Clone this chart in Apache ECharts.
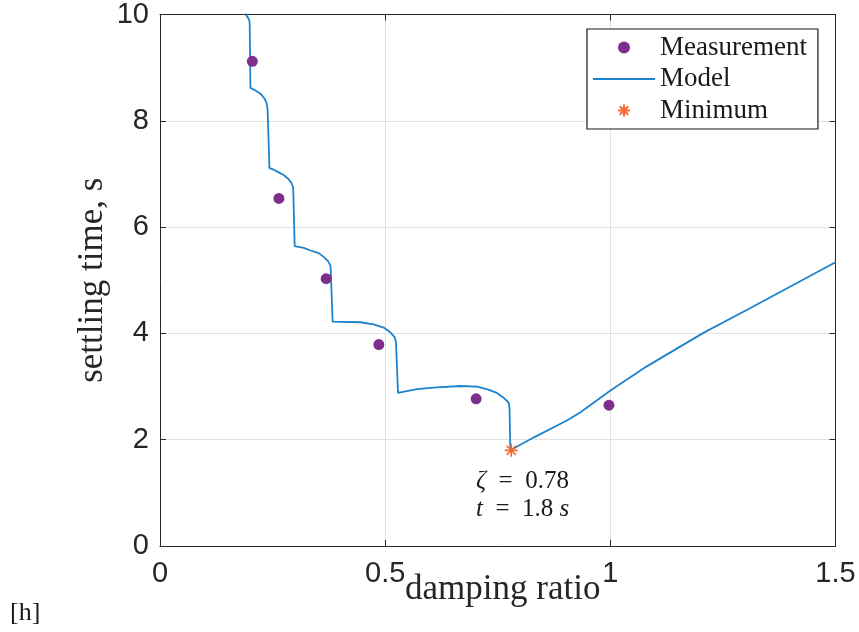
<!DOCTYPE html>
<html>
<head>
<meta charset="utf-8">
<script src="https://cdn.jsdelivr.net/npm/echarts@6/dist/echarts.min.js"></script>
<style>
html,body{margin:0;padding:0;background:#fff;}
#chart{width:859px;height:632px;}
</style>
</head>
<body>
<div id="chart"></div>
<script>
// Measurements (damping ratio, settling time)
const measZeta = [0.205, 0.264, 0.369, 0.486, 0.702, 0.997];
const measTime = [9.12, 6.54, 5.03, 3.79, 2.77, 2.65];

// Model curve
const modelZeta = [0.185, 0.1897, 0.1948, 0.1986, 0.1992,
  0.2008, 0.2119, 0.2230, 0.2319, 0.2363, 0.2385, 0.2392,
  0.2430, 0.2525, 0.2636, 0.2747, 0.2858, 0.2918, 0.2955, 0.2962,
  0.2991, 0.3191, 0.3339, 0.3524, 0.3634, 0.3731, 0.3783, 0.3790,
  0.3834, 0.4449, 0.4744, 0.4966, 0.5114, 0.5210, 0.5240,
  0.5285, 0.5707, 0.6075, 0.6667, 0.7038, 0.7260, 0.7482, 0.7628, 0.7739, 0.7761,
  0.7780, 0.8294, 0.9035, 0.9330, 1.0011, 1.0810, 1.2066, 1.3029, 1.5];
const modelTime = [10.6, 10.0, 9.95, 9.88, 9.83,
  8.62, 8.57, 8.51, 8.42, 8.34, 8.24, 8.15,
  7.11, 7.08, 7.03, 6.98, 6.90, 6.83, 6.75, 6.62,
  5.64, 5.61, 5.56, 5.51, 5.44, 5.36, 5.28, 5.22,
  4.22, 4.21, 4.17, 4.11, 4.02, 3.93, 3.84,
  2.88, 2.95, 2.98, 3.01, 3.00, 2.95, 2.88, 2.79, 2.70, 2.60,
  1.80, 2.04, 2.36, 2.51, 2.93, 3.38, 4.01, 4.44, 5.34];

// Minimum
const minZeta = 0.78;
const minTime = 1.8;

// Axis ticks
const xTicks = [0, 0.5, 1, 1.5];
const yTicks = [0, 2, 4, 6, 8, 10];

const seriesNames = ['Measurement', 'Model', 'Minimum'];

const serif = '"Liberation Serif", "Times New Roman", serif';
const sans = '"Liberation Sans", Arial, Helvetica, sans-serif';
const axisColor = '#262626';
const lineColor = '#1d83cc';
const starPath = 'path://M0,-10L0,10M-10,0L10,0M-7.07,-7.07L7.07,7.07M-7.07,7.07L7.07,-7.07';

const chart = echarts.init(document.getElementById('chart'), null, {renderer: 'canvas'});

const baseX = {
  type: 'value', min: xTicks[0], max: xTicks[xTicks.length - 1], interval: 0.5,
  axisLine: {show: true, onZero: false, lineStyle: {color: axisColor, width: 1}},
  axisTick: {show: true, inside: true, length: 6, lineStyle: {color: axisColor}},
  splitLine: {show: false}
};
const baseY = {
  type: 'value', min: yTicks[0], max: yTicks[yTicks.length - 1], interval: 2,
  axisLine: {show: true, onZero: false, lineStyle: {color: axisColor, width: 1}},
  axisTick: {show: true, inside: true, length: 6, lineStyle: {color: axisColor}},
  splitLine: {show: false}
};

const option = {
  backgroundColor: '#ffffff',
  animation: false,
  grid: {left: 160, right: 23.5, top: 11, bottom: 86, containLabel: false},
  xAxis: [
    Object.assign({}, baseX, {
      position: 'bottom',
      name: 'damping ratio', nameLocation: 'middle', nameGap: 26, nameMoveOverlap: false,
      nameTextStyle: {fontFamily: serif, fontSize: 35, color: '#262626', padding: [0, 0, 0, 10]},
      axisLabel: {show: true, margin: 13, fontFamily: sans, fontSize: 29, color: axisColor,
        formatter: v => String(v)},
      splitLine: {show: true, lineStyle: {color: '#e1e1e1', width: 1}}
    }),
    Object.assign({}, baseX, {position: 'top', axisLabel: {show: false}})
  ],
  yAxis: [
    Object.assign({}, baseY, {
      position: 'left',
      name: 'settling time, s', nameLocation: 'middle', nameGap: 50, nameMoveOverlap: false,
      nameTextStyle: {fontFamily: serif, fontSize: 35, color: '#262626'},
      axisLabel: {show: true, margin: 11, fontFamily: sans, fontSize: 29, color: axisColor},
      splitLine: {show: true, lineStyle: {color: '#e1e1e1', width: 1}}
    }),
    Object.assign({}, baseY, {position: 'right', axisLabel: {show: false}})
  ],
  legend: {
    data: [
      {name: seriesNames[0]},
      {name: seriesNames[1], itemStyle: {opacity: 0}},
      {name: seriesNames[2]}
    ],
    orient: 'vertical',
    left: 587, top: 29,
    padding: [5, 11, 5, 5],
    itemWidth: 62, itemHeight: 12, itemGap: 4.5,
    backgroundColor: '#ffffff',
    borderColor: '#1a1a1a', borderWidth: 1.2, borderRadius: 0,
    textStyle: {fontFamily: serif, fontSize: 27, color: '#1a1a1a', lineHeight: 27}
  },
  graphic: [{
    type: 'text', left: 10, top: 600,
    style: {text: '[h]', font: '26px ' + serif, fill: '#1a1a1a'}
  }],
  series: [
    {
      name: 'Measurement', type: 'scatter', xAxisIndex: 0, yAxisIndex: 0,
      symbol: 'circle', symbolSize: 11,
      itemStyle: {color: '#7E2F8E', opacity: 1},
      data: measZeta.map((z, i) => [z, measTime[i]]),
      z: 3
    },
    {
      name: 'Model', type: 'line', xAxisIndex: 0, yAxisIndex: 0,
      showSymbol: false, symbol: 'none', clip: true,
      lineStyle: {color: lineColor, width: 1.8},
      itemStyle: {color: lineColor},
      data: modelZeta.map((z, i) => [z, modelTime[i]]),
      z: 2
    },
    {
      name: 'Minimum', type: 'scatter', xAxisIndex: 0, yAxisIndex: 0,
      symbol: starPath, symbolSize: 13,
      itemStyle: {color: 'rgba(0,0,0,0)', borderColor: '#F5682F', borderWidth: 1.6, opacity: 1},
      label: {
        show: true, position: [-28, 24], align: 'left', verticalAlign: 'top',
        formatter: '{i|ζ}  =  ' + minZeta + '\n{i|t}  =  ' + minTime + ' {i|s}',
        fontFamily: serif, fontSize: 25, color: '#1a1a1a', lineHeight: 28,
        rich: {i: {fontFamily: serif, fontStyle: 'italic', fontSize: 25, color: '#1a1a1a', lineHeight: 28}}
      },
      data: [[minZeta, minTime]],
      z: 4
    }
  ]
};
chart.setOption(option);
</script>
</body>
</html>
